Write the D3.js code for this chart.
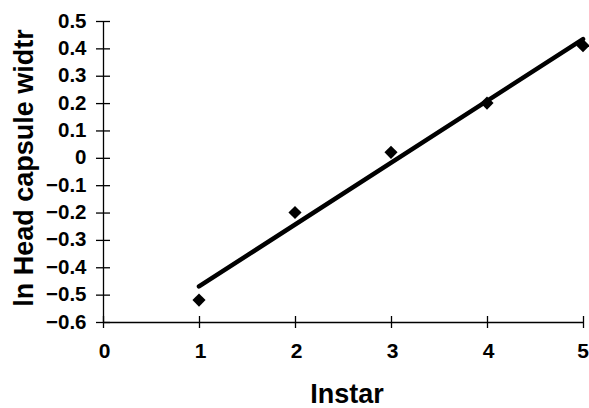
<!DOCTYPE html>
<html>
<head>
<meta charset="utf-8">
<script src="https://cdn.jsdelivr.net/npm/d3@7"></script>
<style>
  body { margin: 0; background: #fff; }
  text { font-family: "Liberation Sans", Arial, sans-serif; font-weight: bold; fill: #000; }
</style>
</head>
<body>
<div id="chart"></div>
<script>
var instar = [1, 2, 3, 4, 5];
var lnWidth = [-0.52, -0.20, 0.02, 0.20, 0.41];
var xTicks = [0, 1, 2, 3, 4, 5];
var yTicks = [0.5, 0.4, 0.3, 0.2, 0.1, 0, -0.1, -0.2, -0.3, -0.4, -0.5, -0.6];

var width = 589, height = 408;
var svg = d3.select("#chart").append("svg")
  .attr("width", width).attr("height", height);

var x = d3.scaleLinear().domain([0, 5]).range([103, 583]);
var y = d3.scaleLinear().domain([-0.6, 0.5]).range([322, 21]);

// x axis
var xAxis = svg.append("g").attr("transform", "translate(0," + y(-0.6) + ")")
  .call(d3.axisBottom(x).tickValues(xTicks).tickSize(0).tickFormat(d3.format("d")));
xAxis.select(".domain").attr("stroke", "#000").attr("stroke-width", 1.3);
xAxis.selectAll(".tick line").attr("y1", -6).attr("y2", 6).attr("stroke", "#000").attr("stroke-width", 1.3);
xAxis.selectAll(".tick text")
  .attr("y", 0).attr("dy", null).attr("x", 0)
  .attr("transform", function(d) { return "translate(" + (d === 5 ? -0.5 : 1) + ",36)"; })
  .style("font-size", "21px");

// y axis
var yAxis = svg.append("g").attr("transform", "translate(" + x(0) + ",0)")
  .call(d3.axisLeft(y).tickValues(yTicks).tickSize(0)
    .tickFormat(function(d) { return d === 0 ? "0" : d3.format(".1f")(d); }));
yAxis.select(".domain").attr("stroke", "#000").attr("stroke-width", 1.3);
yAxis.selectAll(".tick line").attr("x1", -7).attr("x2", 7).attr("stroke", "#000").attr("stroke-width", 1.3);
yAxis.selectAll(".tick text")
  .attr("y", 0).attr("dy", null).attr("x", 0)
  .attr("transform", "translate(-16.5,6)")
  .style("font-size", "20.5px");

// regression line
var mx = d3.mean(instar), my = d3.mean(lnWidth);
var sxy = d3.sum(instar, function(d, i) { return (d - mx) * (lnWidth[i] - my); });
var sxx = d3.sum(instar, function(d) { return (d - mx) * (d - mx); });
var slope = sxy / sxx, icpt = my - slope * mx;
var x0 = d3.min(instar), x1 = d3.max(instar);
svg.append("line")
  .attr("x1", x(x0)).attr("y1", y(icpt + slope * x0))
  .attr("x2", x(x1)).attr("y2", y(icpt + slope * x1))
  .attr("stroke", "#000").attr("stroke-width", 4.5).attr("stroke-linecap", "round");

// markers
svg.selectAll(".pt").data(instar).enter().append("path")
  .attr("class", "pt")
  .attr("d", d3.symbol().type(d3.symbolDiamond2).size(110))
  .attr("transform", function(d, i) { return "translate(" + x(d) + "," + y(lnWidth[i]) + ")"; })
  .attr("fill", "#000");

// titles
svg.append("text").attr("x", 347).attr("y", 403).attr("text-anchor", "middle")
  .style("font-size", "27px").text("Instar");
svg.append("text").attr("transform", "translate(33,168) rotate(-90)").attr("text-anchor", "middle")
  .style("font-size", "27px").text("ln Head capsule widtr");
</script>
</body>
</html>
